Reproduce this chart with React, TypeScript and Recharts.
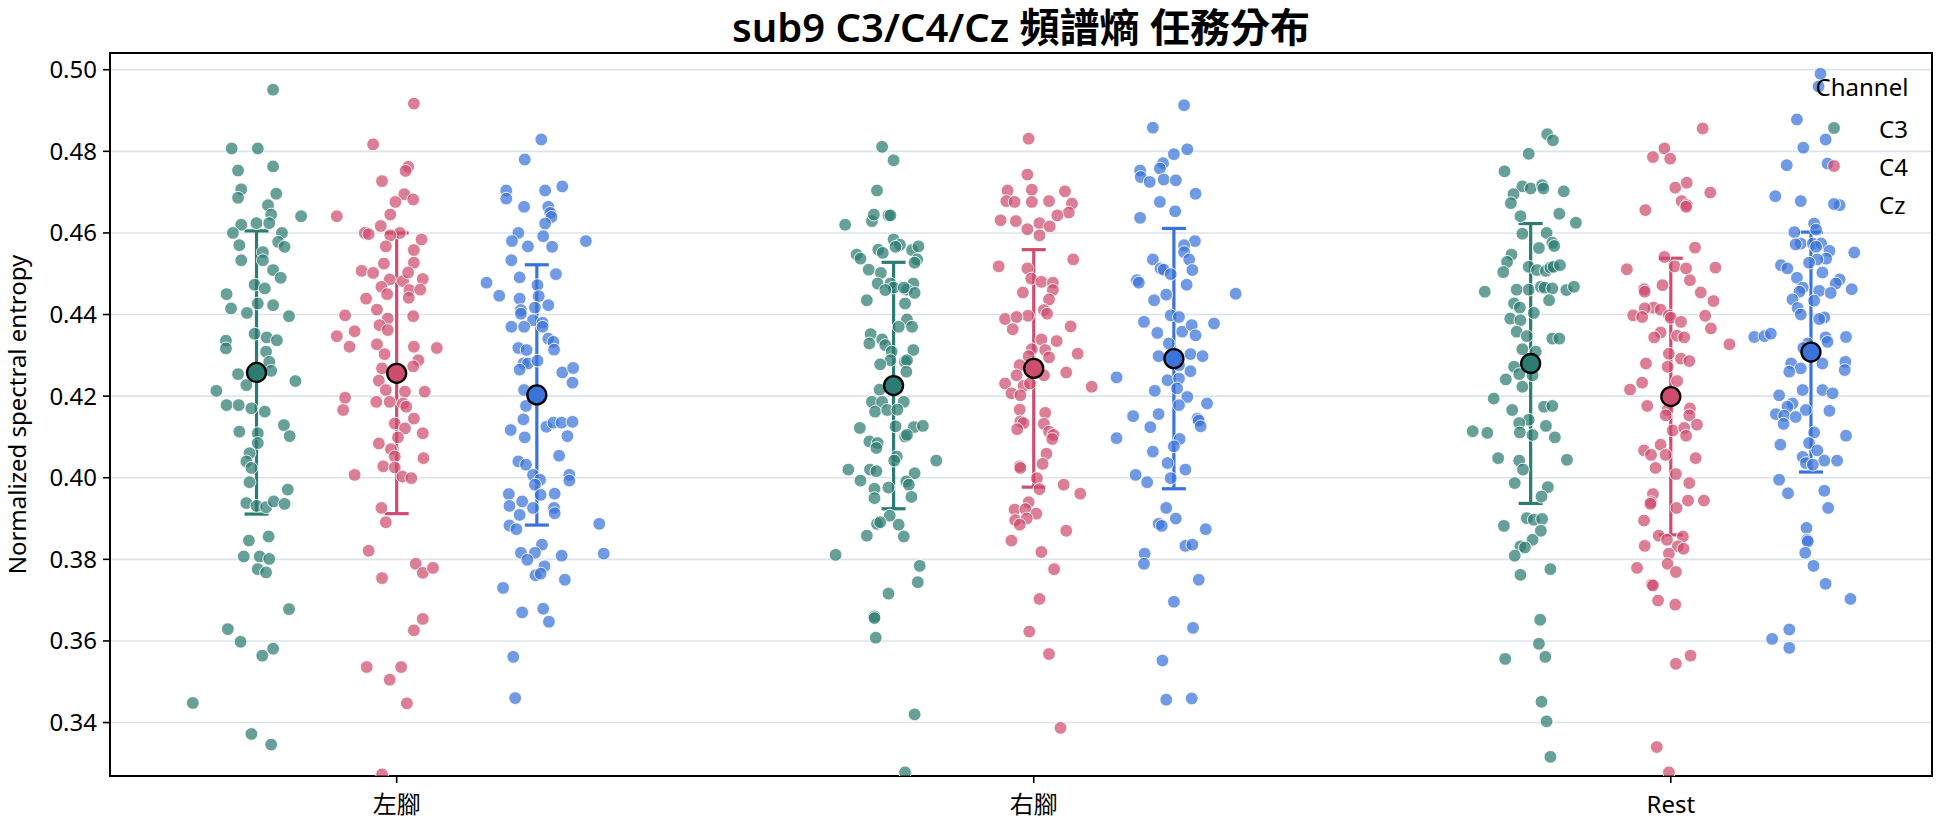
import React from "react";
import {
  CartesianGrid,
  ErrorBar,
  ReferenceArea,
  Scatter,
  ScatterChart,
  XAxis,
  YAxis,
} from "recharts";

const FONT = "'Noto Sans', 'Noto Sans CJK TC', sans-serif";

const categories = ["左腳", "右腳", "Rest"];
const channels = ["C3", "C4", "Cz"];
const yTicks = [0.34, 0.36, 0.38, 0.4, 0.42, 0.44, 0.46, 0.48, 0.5];
const X_DOMAIN: [number, number] = [-0.45, 2.41];
const Y_DOMAIN: [number, number] = [0.3269, 0.5041];

// each trial: [strip jitter (category units), normalized spectral entropy]
const leftC3: [number, number][] = [
  [0.026, 0.4951], [-0.039, 0.4807], [0.002, 0.4807], [-0.029, 0.4753], [0.026, 0.4763],
  [-0.024, 0.4707], [-0.029, 0.4686], [0.031, 0.4696], [0.018, 0.4668], [0.07, 0.4641],
  [0.023, 0.4645], [-0.024, 0.462], [0.0, 0.4624], [0.02, 0.4624], [-0.037, 0.46],
  [0.04, 0.46], [-0.027, 0.457], [0.01, 0.4553], [0.034, 0.4578], [0.044, 0.4566],
  [-0.024, 0.4533], [0.01, 0.4533], [0.026, 0.4509], [0.038, 0.449], [-0.003, 0.4473],
  [0.013, 0.4464], [-0.047, 0.445], [-0.04, 0.4415], [-0.015, 0.4404], [0.002, 0.4427],
  [0.026, 0.4423], [0.051, 0.4396], [-0.003, 0.4353], [0.016, 0.4344], [0.032, 0.4337],
  [-0.048, 0.4336], [-0.048, 0.4317], [0.015, 0.4309], [0.02, 0.4284], [0.023, 0.4262],
  [-0.029, 0.4254], [-0.016, 0.4227], [0.061, 0.4237], [-0.063, 0.4213], [-0.047, 0.4178],
  [-0.028, 0.4178], [-0.008, 0.417], [0.013, 0.4162], [0.043, 0.4129], [-0.027, 0.4113],
  [0.002, 0.4109], [0.052, 0.4102], [0.002, 0.4085], [-0.011, 0.406], [-0.016, 0.404],
  [-0.008, 0.4024], [-0.011, 0.3989], [0.049, 0.3971], [-0.016, 0.3938], [0.0, 0.3931],
  [0.015, 0.3928], [0.027, 0.3942], [0.044, 0.3936], [-0.012, 0.3846], [0.019, 0.3856],
  [-0.02, 0.3807], [0.005, 0.3807], [0.02, 0.3801], [0.002, 0.3776], [0.015, 0.3768],
  [0.051, 0.3678], [-0.045, 0.3629], [-0.025, 0.3598], [0.026, 0.3581], [0.009, 0.3564],
  [-0.1, 0.3448], [-0.008, 0.3372], [0.023, 0.3346],
];

const leftC4: [number, number][] = [
  [0.027, 0.4917], [-0.037, 0.4817], [0.018, 0.4762], [0.014, 0.4752], [-0.023, 0.4727],
  [0.012, 0.4695], [0.026, 0.4682], [-0.002, 0.4676], [-0.094, 0.4641], [-0.01, 0.4645],
  [-0.025, 0.4617], [-0.05, 0.46], [-0.044, 0.4597], [0.005, 0.46], [-0.01, 0.4594],
  [0.039, 0.4584], [-0.017, 0.4567], [0.027, 0.4558], [-0.02, 0.4525], [0.027, 0.4527],
  [-0.055, 0.4507], [-0.037, 0.4502], [-0.011, 0.4486], [0.01, 0.4482], [0.018, 0.4503],
  [0.041, 0.4487], [-0.024, 0.4468], [-0.015, 0.445], [0.02, 0.446], [0.019, 0.4441],
  [0.037, 0.4461], [-0.048, 0.4439], [-0.031, 0.4412], [-0.014, 0.439], [-0.081, 0.4398],
  [0.026, 0.4396], [-0.027, 0.4374], [-0.066, 0.4359], [-0.014, 0.4362], [-0.094, 0.4347],
  [-0.031, 0.4327], [-0.074, 0.4321], [-0.019, 0.4303], [0.027, 0.4321], [0.063, 0.4318],
  [0.034, 0.4288], [0.026, 0.4273], [-0.023, 0.4268], [-0.028, 0.4238], [0.013, 0.4211],
  [0.044, 0.4211], [-0.017, 0.4215], [-0.081, 0.4196], [-0.032, 0.4186], [-0.011, 0.4186],
  [0.01, 0.4182], [-0.084, 0.4166], [0.015, 0.4174], [0.027, 0.4145], [-0.003, 0.4133],
  [0.013, 0.4121], [0.041, 0.4109], [-0.028, 0.4084], [0.002, 0.4099], [-0.009, 0.407],
  [-0.003, 0.4052], [0.042, 0.4048], [-0.021, 0.4028], [-0.003, 0.4025], [-0.066, 0.4007],
  [0.009, 0.4003], [0.023, 0.3999], [-0.024, 0.3926], [-0.017, 0.3891], [-0.044, 0.3821],
  [0.03, 0.3789], [0.041, 0.3767], [0.057, 0.3779], [-0.023, 0.3754], [0.041, 0.3654],
  [0.027, 0.3626], [-0.047, 0.3536], [0.007, 0.3536], [-0.011, 0.3505], [0.016, 0.3447],
  [-0.023, 0.3273],
];

const leftCz: [number, number][] = [
  [0.007, 0.4829], [-0.019, 0.478], [-0.048, 0.4704], [-0.048, 0.4684], [0.013, 0.4704],
  [0.04, 0.4714], [-0.02, 0.4664], [0.018, 0.4664], [0.021, 0.4649], [0.023, 0.4639],
  [0.013, 0.4623], [-0.029, 0.46], [-0.039, 0.458], [-0.014, 0.4567], [0.01, 0.4592],
  [0.024, 0.4566], [0.077, 0.458], [-0.04, 0.4533], [-0.027, 0.4491], [0.03, 0.4499],
  [-0.079, 0.4478], [-0.059, 0.4446], [0.001, 0.4472], [0.003, 0.4445], [-0.027, 0.4439],
  [0.018, 0.4423], [-0.025, 0.4411], [-0.025, 0.4402], [-0.003, 0.4417], [-0.006, 0.4386],
  [0.009, 0.438], [0.009, 0.437], [-0.04, 0.437], [-0.02, 0.437], [0.018, 0.4341],
  [0.026, 0.4333], [-0.029, 0.4318], [-0.016, 0.4313], [0.027, 0.4314], [-0.021, 0.428],
  [-0.014, 0.428], [0.001, 0.4287], [-0.027, 0.4265], [0.04, 0.4258], [0.057, 0.4269],
  [0.056, 0.4233], [-0.02, 0.4215], [-0.017, 0.4176], [0.015, 0.4125], [0.026, 0.4135],
  [0.039, 0.4135], [0.056, 0.4137], [-0.041, 0.4117], [-0.021, 0.4143], [-0.019, 0.4099],
  [0.048, 0.4102], [0.035, 0.4054], [-0.029, 0.404], [-0.017, 0.4032], [-0.006, 0.4007],
  [0.051, 0.4007], [0.051, 0.3993], [0.005, 0.3995], [-0.003, 0.3983], [0.006, 0.3958],
  [0.028, 0.3961], [-0.044, 0.396], [-0.023, 0.3942], [-0.043, 0.3931], [-0.006, 0.3926],
  [0.027, 0.3926], [0.028, 0.3913], [-0.027, 0.3909], [-0.043, 0.3883], [-0.032, 0.3874],
  [0.098, 0.3887], [0.008, 0.3836], [-0.025, 0.3816], [-0.003, 0.3816], [-0.015, 0.3799],
  [0.039, 0.3809], [0.105, 0.3814], [0.012, 0.3783], [-0.002, 0.3761], [0.006, 0.3765],
  [0.044, 0.375], [-0.053, 0.373], [-0.023, 0.367], [0.01, 0.3679], [0.019, 0.3647],
  [-0.037, 0.3561], [-0.034, 0.346],
];

const rightC3: [number, number][] = [
  [-0.018, 0.4811], [0.0, 0.4778], [-0.026, 0.4704], [-0.076, 0.462], [-0.034, 0.4629],
  [-0.031, 0.4645], [-0.008, 0.4643], [-0.005, 0.4643], [0.0, 0.4584], [0.01, 0.4571],
  [0.003, 0.4566], [-0.058, 0.4547], [-0.052, 0.4537], [-0.024, 0.4559], [-0.017, 0.4551],
  [0.029, 0.4558], [0.039, 0.4567], [0.037, 0.4535], [0.033, 0.4527], [-0.039, 0.451],
  [-0.02, 0.4502], [-0.025, 0.4476], [-0.005, 0.4476], [0.0, 0.4466], [0.031, 0.4476],
  [0.021, 0.4461], [0.033, 0.4453], [0.016, 0.4466], [-0.013, 0.446], [-0.042, 0.4435],
  [0.018, 0.4427], [0.021, 0.4388], [0.029, 0.437], [0.008, 0.437], [-0.036, 0.4352],
  [-0.018, 0.4339], [-0.038, 0.4329], [-0.013, 0.4325], [-0.003, 0.4309], [0.031, 0.4313],
  [-0.005, 0.4288], [0.018, 0.4284], [0.021, 0.4288], [-0.021, 0.4278], [0.02, 0.426],
  [-0.022, 0.4216], [-0.034, 0.4186], [-0.018, 0.4186], [0.016, 0.4186], [-0.029, 0.4162],
  [-0.01, 0.4166], [0.006, 0.4167], [-0.053, 0.4122], [0.032, 0.4124], [0.046, 0.4127],
  [0.003, 0.4126], [0.018, 0.4101], [0.021, 0.4105], [-0.038, 0.4089], [-0.025, 0.4085],
  [-0.027, 0.4073], [0.005, 0.4052], [0.001, 0.4042], [0.067, 0.4042], [-0.071, 0.402],
  [-0.037, 0.402], [-0.027, 0.4016], [0.033, 0.4011], [-0.052, 0.3993], [0.02, 0.3991],
  [0.024, 0.3983], [-0.03, 0.3973], [-0.03, 0.395], [-0.008, 0.3976], [0.028, 0.3953],
  [-0.006, 0.3907], [-0.026, 0.3887], [-0.021, 0.3891], [0.008, 0.3885], [-0.042, 0.3858],
  [0.016, 0.3856], [-0.091, 0.3811], [0.041, 0.3784], [0.038, 0.3744], [-0.008, 0.3716],
  [-0.03, 0.366], [-0.03, 0.3656], [-0.028, 0.3608], [0.033, 0.342], [0.018, 0.3278],
];

const rightC4: [number, number][] = [
  [-0.008, 0.4831], [-0.01, 0.4743], [-0.041, 0.4704], [-0.003, 0.4706], [0.049, 0.4702],
  [-0.043, 0.4678], [-0.03, 0.4676], [-0.003, 0.4676], [0.024, 0.4678], [0.06, 0.4672],
  [0.055, 0.465], [-0.052, 0.4631], [-0.028, 0.4629], [0.009, 0.4624], [0.025, 0.4616],
  [0.037, 0.4643], [-0.01, 0.4609], [0.009, 0.4594], [0.062, 0.4535], [-0.055, 0.4518],
  [-0.01, 0.4513], [-0.004, 0.4488], [0.012, 0.448], [0.03, 0.4478], [0.03, 0.446],
  [-0.017, 0.4454], [0.024, 0.4437], [0.016, 0.4411], [0.021, 0.4402], [-0.009, 0.4397],
  [-0.045, 0.4389], [-0.027, 0.4394], [0.058, 0.4371], [-0.033, 0.4364], [0.012, 0.4339],
  [0.036, 0.4335], [-0.003, 0.4315], [0.018, 0.4313], [0.069, 0.4304], [-0.008, 0.4298],
  [0.024, 0.4295], [-0.022, 0.4276], [-0.027, 0.4251], [0.051, 0.4258], [0.016, 0.4251],
  [-0.045, 0.4231], [-0.016, 0.4225], [-0.006, 0.4231], [0.091, 0.4223], [-0.035, 0.4207],
  [-0.021, 0.4202], [-0.022, 0.4167], [0.018, 0.4159], [-0.021, 0.4138], [-0.016, 0.4134],
  [-0.026, 0.4119], [0.016, 0.4132], [0.024, 0.4113], [0.031, 0.4105], [0.029, 0.4095],
  [0.02, 0.4059], [0.014, 0.4034], [-0.022, 0.4028], [-0.021, 0.4024], [0.005, 0.3999],
  [0.009, 0.3972], [0.047, 0.3983], [0.073, 0.3961], [-0.008, 0.394], [-0.03, 0.3922],
  [-0.013, 0.3923], [0.004, 0.3912], [-0.029, 0.3896], [-0.011, 0.39], [-0.022, 0.3885],
  [0.051, 0.387], [-0.035, 0.3846], [0.012, 0.3818], [0.032, 0.3776], [0.009, 0.3703],
  [-0.007, 0.3623], [0.024, 0.3568], [0.042, 0.3387],
];

const rightCz: [number, number][] = [
  [0.016, 0.4913], [-0.033, 0.4858], [0.021, 0.4805], [0.0, 0.4793], [-0.017, 0.4771],
  [-0.022, 0.4758], [-0.053, 0.4753], [-0.052, 0.4737], [-0.038, 0.4725], [-0.016, 0.4731],
  [0.003, 0.4729], [0.034, 0.4696], [-0.022, 0.4676], [0.002, 0.4653], [-0.053, 0.4637],
  [0.033, 0.458], [0.016, 0.457], [0.016, 0.4553], [-0.033, 0.4535], [0.024, 0.4535],
  [-0.021, 0.4513], [-0.016, 0.451], [0.029, 0.4509], [-0.005, 0.4499], [-0.058, 0.4484],
  [-0.055, 0.4478], [0.02, 0.4473], [-0.012, 0.4449], [0.097, 0.4451], [-0.031, 0.4435],
  [-0.005, 0.4398], [0.008, 0.4394], [-0.047, 0.4382], [0.063, 0.4378], [-0.026, 0.4355],
  [0.013, 0.4358], [0.028, 0.4374], [0.034, 0.4349], [-0.008, 0.4329], [-0.024, 0.4298],
  [0.026, 0.4303], [0.045, 0.4298], [0.008, 0.4276], [-0.09, 0.4246], [0.026, 0.4261],
  [-0.01, 0.4239], [0.008, 0.4243], [0.005, 0.4219], [-0.03, 0.4213], [0.021, 0.4198],
  [0.052, 0.4182], [0.008, 0.4178], [-0.064, 0.4151], [-0.024, 0.4156], [0.037, 0.4145],
  [0.039, 0.414], [0.042, 0.4126], [-0.037, 0.4124], [-0.09, 0.4097], [0.009, 0.4095],
  [0.0, 0.4077], [-0.033, 0.4064], [-0.01, 0.4036], [0.018, 0.402], [-0.06, 0.4007],
  [-0.042, 0.3989], [-0.005, 0.3999], [-0.012, 0.3926], [0.003, 0.39], [-0.024, 0.3887],
  [-0.019, 0.3882], [0.05, 0.3874], [0.018, 0.3833], [0.029, 0.3836], [-0.046, 0.3814],
  [-0.047, 0.3789], [0.039, 0.375], [0.0, 0.3696], [0.03, 0.3632], [-0.018, 0.3552],
  [-0.012, 0.3456], [0.028, 0.3459],
];

const restC3: [number, number][] = [
  [0.026, 0.4842], [0.035, 0.4827], [-0.003, 0.4794], [-0.041, 0.4751], [-0.013, 0.4714],
  [0.0, 0.4709], [0.018, 0.4717], [0.02, 0.4709], [-0.027, 0.4695], [-0.031, 0.4673],
  [0.052, 0.4702], [-0.016, 0.4641], [0.045, 0.4647], [0.071, 0.4625], [-0.013, 0.4598],
  [0.025, 0.46], [0.034, 0.4576], [0.037, 0.4568], [0.013, 0.4563], [-0.03, 0.4547],
  [-0.037, 0.4529], [-0.043, 0.4504], [-0.003, 0.4517], [0.01, 0.4509], [0.024, 0.4507],
  [0.031, 0.4515], [0.036, 0.4517], [0.046, 0.4521], [-0.072, 0.4456], [-0.022, 0.4461],
  [-0.003, 0.4461], [0.016, 0.4468], [0.022, 0.4466], [0.034, 0.4464], [0.056, 0.446],
  [0.068, 0.4468], [0.029, 0.4435], [-0.026, 0.4427], [-0.017, 0.4417], [0.005, 0.4404],
  [-0.032, 0.439], [-0.016, 0.4386], [-0.022, 0.4358], [0.034, 0.4341], [0.045, 0.4341],
  [-0.006, 0.4347], [-0.013, 0.4315], [0.008, 0.4309], [-0.026, 0.4272], [-0.018, 0.4254],
  [-0.039, 0.4241], [-0.013, 0.4223], [0.003, 0.4251], [-0.058, 0.4194], [-0.029, 0.4166],
  [0.021, 0.4174], [0.034, 0.4176], [-0.003, 0.4142], [-0.018, 0.4134], [-0.017, 0.4111],
  [0.003, 0.4105], [0.024, 0.4127], [-0.091, 0.4114], [-0.068, 0.411], [0.038, 0.4099],
  [-0.051, 0.4048], [-0.018, 0.4042], [-0.012, 0.402], [0.057, 0.4044], [-0.025, 0.3987],
  [0.027, 0.3977], [0.017, 0.3954], [-0.006, 0.3901], [0.005, 0.3897], [0.018, 0.3899],
  [-0.042, 0.3882], [0.016, 0.387], [0.003, 0.3848], [-0.016, 0.3832], [-0.009, 0.3829],
  [-0.025, 0.3809], [-0.016, 0.3762], [0.031, 0.3776], [0.015, 0.3652], [0.013, 0.3593],
  [-0.04, 0.3556], [0.023, 0.3561], [0.017, 0.3451], [0.025, 0.3403], [0.031, 0.3316],
];

const restC4: [number, number][] = [
  [0.05, 0.4856], [-0.01, 0.4807], [-0.028, 0.4786], [-0.001, 0.4782], [0.007, 0.4711],
  [0.025, 0.4723], [0.062, 0.4699], [0.017, 0.4678], [0.025, 0.4668], [0.024, 0.4664],
  [-0.04, 0.4656], [0.038, 0.4564], [-0.01, 0.4541], [-0.069, 0.4511], [0.006, 0.4518],
  [0.024, 0.4513], [0.07, 0.4515], [0.03, 0.4484], [-0.013, 0.4472], [-0.042, 0.4462],
  [-0.041, 0.4456], [0.047, 0.4454], [0.067, 0.4433], [-0.027, 0.4417], [-0.016, 0.4412],
  [-0.041, 0.4415], [-0.059, 0.4398], [-0.045, 0.4394], [-0.003, 0.4398], [0.0, 0.4392],
  [0.054, 0.4397], [0.016, 0.4382], [0.063, 0.4366], [-0.016, 0.4356], [-0.026, 0.4344],
  [0.01, 0.4348], [0.021, 0.4344], [0.092, 0.4327], [-0.003, 0.4304], [0.016, 0.4292],
  [0.029, 0.4286], [-0.039, 0.428], [-0.005, 0.4272], [-0.045, 0.4233], [-0.064, 0.4216],
  [0.01, 0.4237], [-0.037, 0.4176], [-0.005, 0.4166], [-0.008, 0.4153], [0.03, 0.417],
  [0.029, 0.4153], [0.041, 0.413], [0.003, 0.4116], [0.021, 0.4122], [0.024, 0.4103],
  [-0.016, 0.4081], [-0.042, 0.4067], [-0.031, 0.4056], [-0.008, 0.4056], [0.039, 0.4048],
  [-0.024, 0.4024], [0.008, 0.4009], [0.029, 0.3987], [-0.028, 0.396], [-0.031, 0.394],
  [-0.032, 0.3936], [0.027, 0.3944], [0.052, 0.3944], [0.009, 0.3926], [-0.042, 0.3895],
  [-0.019, 0.3858], [-0.006, 0.3848], [0.019, 0.3856], [0.011, 0.3832], [0.02, 0.3826],
  [-0.041, 0.3833], [-0.003, 0.3814], [-0.053, 0.3779], [-0.005, 0.3789], [0.008, 0.3769],
  [-0.03, 0.3738], [-0.028, 0.3736], [-0.02, 0.3699], [0.007, 0.3689], [0.031, 0.3564],
  [0.008, 0.3544], [-0.022, 0.334], [-0.003, 0.3278],
];

const restCz: [number, number][] = [
  [0.015, 0.499], [0.012, 0.4959], [-0.022, 0.4878], [0.023, 0.4829], [-0.012, 0.4809],
  [-0.038, 0.4766], [0.026, 0.477], [-0.056, 0.469], [-0.016, 0.4678], [0.045, 0.4668],
  [0.005, 0.4623], [0.008, 0.4608], [-0.026, 0.4602], [-0.016, 0.4574], [-0.024, 0.4572],
  [0.003, 0.4574], [0.016, 0.4574], [0.008, 0.4566], [0.029, 0.4556], [0.068, 0.4552],
  [0.024, 0.4537], [0.01, 0.4535], [-0.003, 0.4527], [-0.047, 0.4521], [-0.037, 0.4513],
  [0.018, 0.4503], [-0.022, 0.449], [0.045, 0.4486], [0.039, 0.4476], [-0.013, 0.4466],
  [-0.018, 0.4456], [0.013, 0.4458], [0.031, 0.4453], [0.064, 0.4462], [-0.029, 0.4437],
  [0.005, 0.4434], [-0.021, 0.4416], [-0.016, 0.44], [0.021, 0.4393], [0.013, 0.4389],
  [-0.089, 0.4345], [-0.073, 0.4347], [-0.063, 0.4353], [0.023, 0.4344], [0.026, 0.4333],
  [0.055, 0.4345], [-0.005, 0.4329], [-0.012, 0.4318], [-0.031, 0.428], [-0.016, 0.4268],
  [-0.034, 0.426], [0.018, 0.428], [0.054, 0.4284], [0.053, 0.4264], [-0.013, 0.4215],
  [0.018, 0.4215], [0.034, 0.4207], [-0.05, 0.4202], [-0.029, 0.4182], [-0.037, 0.4174],
  [-0.008, 0.4166], [0.029, 0.4164], [-0.055, 0.4156], [-0.042, 0.4152], [-0.024, 0.4149],
  [-0.043, 0.4132], [0.005, 0.4111], [0.055, 0.4103], [-0.048, 0.4081], [-0.003, 0.4085],
  [0.01, 0.4067], [-0.013, 0.4051], [-0.008, 0.4036], [0.021, 0.4042], [0.041, 0.4042],
  [0.003, 0.4032], [-0.05, 0.3995], [-0.036, 0.3962], [0.021, 0.3968], [0.027, 0.3926],
  [-0.007, 0.3877], [-0.006, 0.3848], [-0.005, 0.3844], [-0.009, 0.3816], [0.004, 0.3784],
  [0.023, 0.374], [0.062, 0.3703], [-0.034, 0.3628], [-0.061, 0.3605], [-0.034, 0.3583],
];

// per category (左腳, 右腳, Rest) x channel (C3, C4, Cz)
const meanValues = [
  [0.4258, 0.4256, 0.4203],
  [0.4226, 0.4268, 0.4292],
  [0.428, 0.4199, 0.4308],
];
const sdValues = [
  [0.0347, 0.0344, 0.0319],
  [0.0302, 0.0291, 0.0319],
  [0.0343, 0.0339, 0.0294],
];

const trialsByChannel = [
  [leftC3, rightC3, restC3],
  [leftC4, rightC4, restC4],
  [leftCz, rightCz, restCz],
];

const solidColors = ["#2b7c72", "#cf4c6e", "#3a73da"];
const DODGE = [-0.22, 0, 0.22];

const pointData = channels.map((_, ci) =>
  trialsByChannel[ci].flatMap((trials, ki) =>
    trials.map(([j, v]) => ({ x: ki + DODGE[ci] + j, y: v }))
  )
);

const meanData = channels.map((_, ci) =>
  categories.map((_, ki) => ({
    x: ki + DODGE[ci],
    y: meanValues[ki][ci],
    err: sdValues[ki][ci],
  }))
);

const makeDot = (color: string) => (props: any) => (
  <circle
    cx={props.cx}
    cy={props.cy}
    r={6.4}
    fill={color}
    fillOpacity={0.72}
    stroke="#ffffff"
    strokeWidth={0.9}
  />
);

const makeMean = (color: string) => (props: any) => (
  <circle cx={props.cx} cy={props.cy} r={9.5} fill={color} stroke="#000" strokeWidth={2.3} />
);

const tickStyle = { fill: "#000", fontSize: 24, fontFamily: FONT };

export default function App() {
  return (
    <div
      style={{
        position: "absolute",
        left: 0,
        top: 0,
        width: 1944,
        height: 827,
        background: "#fff",
        fontFamily: FONT,
      }}
    >
      <div
        style={{
          position: "absolute",
          left: 110,
          width: 1822,
          top: 3,
          textAlign: "center",
          fontSize: 40,
          lineHeight: "48px",
          fontWeight: 600,
          color: "#000",
        }}
      >
        sub9 C3/C4/Cz 頻譜熵 任務分布
      </div>
      <ScatterChart
        width={1944}
        height={827}
        margin={{ top: 53, right: 12, bottom: 0, left: 0 }}
      >
        <CartesianGrid vertical={false} stroke="#dbe4ed" strokeWidth={1.6} />
        <XAxis
          type="number"
          dataKey="x"
          domain={X_DOMAIN}
          allowDataOverflow
          ticks={[0, 1, 2]}
          tickFormatter={(i: number) => categories[i]}
          height={51}
          tick={tickStyle}
          tickSize={7}
          tickMargin={13}
          axisLine={{ stroke: "#000", strokeWidth: 2 }}
          tickLine={{ stroke: "#000", strokeWidth: 1.6 }}
        />
        <YAxis
          type="number"
          dataKey="y"
          domain={Y_DOMAIN}
          allowDataOverflow
          ticks={yTicks}
          tickFormatter={(v: number) => v.toFixed(2)}
          width={110}
          tick={tickStyle}
          tickSize={7}
          tickMargin={6}
          axisLine={{ stroke: "#000", strokeWidth: 2 }}
          tickLine={{ stroke: "#000", strokeWidth: 1.6 }}
          label={{
            value: "Normalized spectral entropy",
            angle: -90,
            position: "insideLeft",
            offset: 17,
            style: { textAnchor: "middle", fontSize: 24, fill: "#000", fontFamily: FONT },
          }}
        />
        {/* closed box around the plot area */}
        <ReferenceArea
          x1={X_DOMAIN[0]}
          x2={X_DOMAIN[1]}
          y1={Y_DOMAIN[0]}
          y2={Y_DOMAIN[1]}
          fill="none"
          fillOpacity={0}
          stroke="#000"
          strokeWidth={2}
          ifOverflow="visible"
        />
        {channels.map((ch, ci) => (
          <Scatter
            key={ch}
            name={ch}
            data={pointData[ci]}
            shape={makeDot(solidColors[ci])}
            isAnimationActive={false}
          />
        ))}
        {channels.map((ch, ci) => (
          <Scatter
            key={ch + "-mean"}
            data={meanData[ci]}
            shape={makeMean(solidColors[ci])}
            isAnimationActive={false}
            legendType="none"
          >
            <ErrorBar
              dataKey="err"
              direction="y"
              width={12}
              stroke={solidColors[ci]}
              strokeWidth={3.2}
              isAnimationActive={false}
            />
          </Scatter>
        ))}
      </ScatterChart>
      <div style={{ position: "absolute", left: 1762, top: 72, width: 200, textAlign: "center", fontSize: 24, lineHeight: "30px", color: "#000" }}>
        Channel
      </div>
      {channels.map((ch, ci) => (
        <div key={ch} style={{ position: "absolute", left: 1822, top: 113 + ci * 38, height: 30, display: "flex", alignItems: "center", fontSize: 24, color: "#000" }}>
          <svg width={24} height={24} style={{ marginRight: 33 }}>
            <circle cx={12} cy={12} r={6.4} fill={solidColors[ci]} fillOpacity={0.72} stroke="#fff" strokeWidth={0.9} />
          </svg>
          {ch}
        </div>
      ))}
    </div>
  );
}
